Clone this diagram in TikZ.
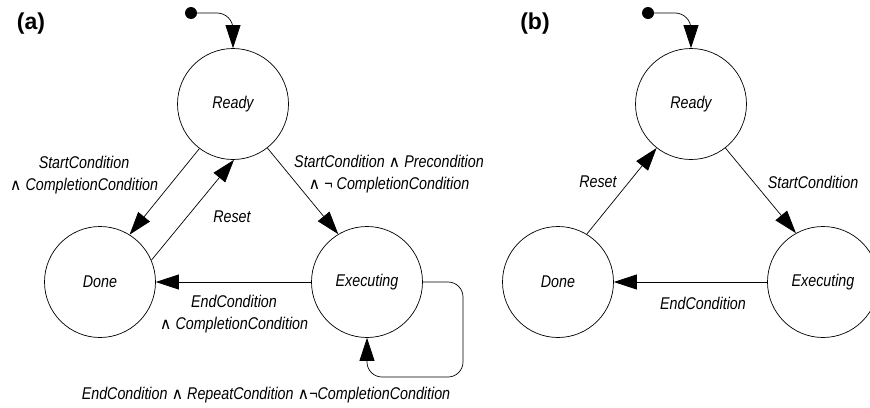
\documentclass[tikz,border=0pt]{standalone}
\usepackage{fontspec}
\setmainfont{Liberation Sans}
\newfontfamily\lblfont{Liberation Sans}[FakeStretch=0.84]
\newfontfamily\djv{DejaVu Sans}
\usetikzlibrary{arrows.meta}
\newcommand\myand{{\djv\upshape\fontsize{16}{16}\selectfont ∧}}
\begin{document}
\begin{tikzpicture}[x=1pt,y=-1pt,
  state/.style={circle,draw,line width=0.7pt,minimum size=111pt,inner sep=0pt,font=\lblfont\fontsize{17}{22}\selectfont\itshape},
  lbl/.style={align=center,inner sep=0pt,font=\lblfont\fontsize{17}{22}\selectfont\itshape},
  ttl/.style={inner sep=0pt,font=\fontsize{23}{26}\selectfont\bfseries},
  arr/.style={line width=0.7pt,-{Triangle[length=23pt,width=15pt]}},
  initdot/.style={circle,fill,minimum size=12pt,inner sep=0pt}]
\clip (0,0) rectangle (870,407);
\fill[white] (0,0) rectangle (870,407);
% ---------- (a) ----------
\node[ttl] (ta) at (31,24) {(a)};
\node[state] (R1) at (233,104) {Ready};
\node[state] (D1) at (100,282) {Done};
\node[state] (E1) at (367,282) {Executing};
\node[initdot] (i1) at (191,13) {};
\draw[arr,rounded corners=16pt] (i1.center) -- (i1 -| R1) -- (R1.north);
\draw[arr] (R1.-127) -- (D1.58);
\draw[arr] (D1.23) -- (R1.-89);
\draw[arr] (R1.-52) -- (E1.121);
\draw[arr] (E1.west) -- (D1.east);
\coordinate (l1) at (463,282);
\coordinate (l2) at (463,377);
\coordinate (l3) at (367,377);
\draw[arr,rounded corners=15pt] (E1.east) -- (l1) -- (l2) -- (l3) -- (E1.south);
\node[lbl] (a1) at (84,175) {StartCondition\\\myand{} CompletionCondition};
\node[lbl] (a2) at (232,217) {Reset};
\node[lbl] (a3) at (389,174) {StartCondition \myand{} Precondition\\\myand{} ¬ CompletionCondition};
\node[lbl] (a4) at (234,314) {EndCondition\\\myand{} CompletionCondition};
\node[lbl] (a5) at (266,395) {EndCondition \myand{} RepeatCondition \myand¬CompletionCondition};
% ---------- (b) ----------
\node[ttl] (tb) at (535,24) {(b)};
\node[state] (R2) at (691,104) {Ready};
\node[state] (D2) at (558,282) {Done};
\node[state] (E2) at (823,282) {Executing};
\node[initdot] (i2) at (648,13) {};
\draw[arr,rounded corners=16pt] (i2.center) -- (i2 -| R2) -- (R2.north);
\draw[arr] (D2.59) -- (R2.-128);
\draw[arr] (R2.-52) -- (E2.119);
\draw[arr] (E2.west) -- (D2.east);
\node[lbl] (b1) at (598,182) {Reset};
\node[lbl] (b2) at (813,182) {StartCondition};
\node[lbl] (b3) at (703,303) {EndCondition};
\end{tikzpicture}
\end{document}
